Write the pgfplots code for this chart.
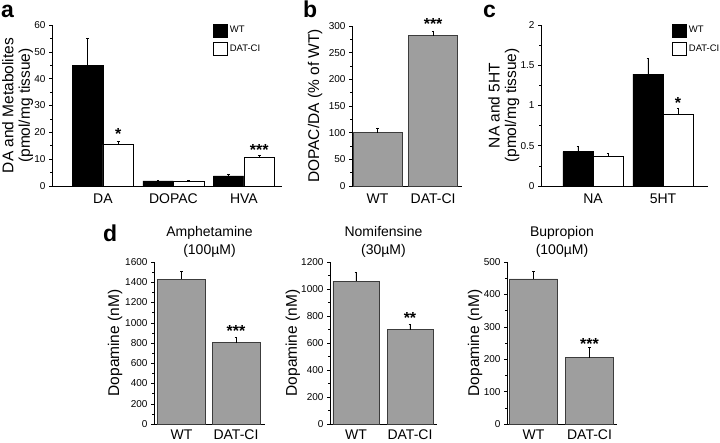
\documentclass[border=0pt]{standalone}
\usepackage{fontspec}
\setmainfont{Liberation Sans}
\usepackage{pgfplots}
\pgfplotsset{compat=1.18}
\definecolor{barg}{RGB}{158,158,158}
\definecolor{bare}{RGB}{60,60,60}

\tikzset{sig/.style={font=\bfseries\fontsize{16}{16}\selectfont, yshift=-3pt},
  letter/.style={anchor=base west, inner sep=0pt, font=\bfseries\fontsize{23}{23}\selectfont}}
\pgfplotsset{
  panel/.style={
    scale only axis, anchor=south west, clip=false,
    axis x line*=bottom, axis y line*=left,
    axis line style={line width=0.6pt, black},
    ymin=0,
    xtick style={draw=none},
    ytick style={black, line width=0.5pt},
    tick align=outside,
    major tick length=3pt, minor tick length=1.8pt,
    minor y tick num=1,
    /pgf/number format/assume math mode=true,
    /pgf/number format/1000 sep={},
    yticklabel style={font=\fontsize{10}{11}\selectfont},
    xticklabel style={font=\fontsize{14}{15}\selectfont, inner sep=1pt, yshift=-4pt},
    ylabel style={font=\fontsize{15.5}{16.5}\selectfont, align=center, anchor=center},
    title style={font=\fontsize{14}{18.5}\selectfont, align=center, yshift=-5pt},
  },
  drow/.style={xticklabel style={yshift=2pt}},
  eb/.style={error bars/y dir=plus, error bars/y explicit,
    error bars/error mark options={rotate=90, mark size=1.3pt, line width=0.5pt, black},
    error bars/error bar style={line width=0.5pt, black}},
  leg/.style={
    legend style={at={(axis description cs:#1,1.01)}, anchor=north west,
      draw=none, fill=none, inner sep=0pt, row sep=5pt,
      font=\fontsize{9.5}{10}\selectfont},
    legend cell align=left,
    legend image code/.code={\draw[##1] (0pt,-6.5pt) rectangle (14pt,6.5pt);}
  },
}

\begin{document}
\begin{tikzpicture}
\useasboundingbox (0,0) rectangle (720pt,442pt);

% panel letters
\node[letter] at (1pt,424pt) {a};
\node[letter] at (303pt,424pt) {b};
\node[letter] at (483pt,424pt) {c};
\node[letter] at (103pt,200pt) {d};

% a
\begin{axis}[panel, leg=0.70, at={(52pt,256pt)}, width=230pt, height=161pt,
  xmin=-0.723, xmax=2.54, ymax=60, ytick={0,10,...,60},
  xtick={0,1,2}, xticklabels={DA,DOPAC,HVA},
  ylabel={DA and Metabolites\\(pmol/mg tissue)},
  ylabel style={at={(axis description cs:-0.15,0.5)}}]
\addplot[ybar, bar width=0.433, bar shift=0pt, fill=black, draw=black, line width=0.6pt, eb, forget plot]
  coordinates {(-0.2165,45) +- (0,10) (0.7835,1.9) +- (0,0.3) (1.7835,3.8) +- (0,0.6)};
\addplot[ybar, bar width=0.433, bar shift=0pt, fill=white, draw=black, line width=0.6pt, eb, forget plot]
  coordinates {(0.2165,15.4) +- (0,1.2) (1.2165,1.9) +- (0,0.3) (2.2165,10.7) +- (0,0.8)};
\addlegendimage{fill=black, draw=black, line width=0.6pt}
\addlegendentry{WT}
\addlegendimage{fill=white, draw=black, line width=0.6pt}
\addlegendentry{DAT-CI}
\node[sig] at (axis cs:0.2165,20.5) {*};
\node[sig] at (axis cs:2.2165,14.6) {***};
\end{axis}

% b
\begin{axis}[panel, at={(352pt,256pt)}, width=110pt, height=160pt,
  xmin=-0.46, xmax=1.52, ymax=300, ytick={0,50,...,300},
  xtick={0,1}, xticklabels={WT,DAT-CI},
  ylabel={DOPAC/DA (\% of WT)},
  ylabel style={at={(axis description cs:-0.336,0.5)}}]
\addplot[ybar, bar width=0.88, fill=barg, draw=bare, line width=0.6pt, eb]
  coordinates {(0,100) +- (0,9) (1,282) +- (0,9)};
\node[sig] at (axis cs:1,310) {***};
\end{axis}

% c
\begin{axis}[panel, leg=0.785, at={(541pt,256pt)}, width=167pt, height=161pt,
  xmin=-0.743, xmax=1.643, ymax=2, ytick={0,0.5,...,2},
  xtick={0,1}, xticklabels={NA,5HT},
  ylabel={NA and 5HT\\(pmol/mg tissue)},
  ylabel style={at={(axis description cs:-0.222,0.5)}}]
\addplot[ybar, bar width=0.43, bar shift=0pt, fill=black, draw=black, line width=0.6pt, eb, forget plot]
  coordinates {(-0.215,0.426) +- (0,0.07) (0.785,1.39) +- (0,0.196)};
\addplot[ybar, bar width=0.43, bar shift=0pt, fill=white, draw=black, line width=0.6pt, eb, forget plot]
  coordinates {(0.215,0.369) +- (0,0.04) (1.215,0.89) +- (0,0.075)};
\addlegendimage{fill=black, draw=black, line width=0.6pt}
\addlegendentry{WT}
\addlegendimage{fill=white, draw=black, line width=0.6pt}
\addlegendentry{DAT-CI}
\node[sig] at (axis cs:1.215,1.07) {*};
\end{axis}

% d: amphetamine
\begin{axis}[panel, drow, at={(154pt,18pt)}, width=111pt, height=162pt,
  xmin=-0.505, xmax=1.532, ymax=1600, ytick={0,200,...,1600},
  xtick={0,1}, xticklabels={WT,DAT-CI},
  title={Amphetamine\\(100µM)},
  ylabel={Dopamine (nM)},
  ylabel style={at={(axis description cs:-0.35,0.5)}}]
\addplot[ybar, bar width=0.88, fill=barg, draw=bare, line width=0.6pt, eb]
  coordinates {(0,1431) +- (0,79) (1,802) +- (0,56)};
\node[sig] at (axis cs:1,944) {***};
\end{axis}

% d: nomifensine
\begin{axis}[panel, drow, at={(330pt,18pt)}, width=107pt, height=162pt,
  xmin=-0.48, xmax=1.5, ymax=1200, ytick={0,200,...,1200},
  xtick={0,1}, xticklabels={WT,DAT-CI},
  title={Nomifensine\\(30µM)},
  ylabel={Dopamine (nM)},
  ylabel style={at={(axis description cs:-0.346,0.5)}}]
\addplot[ybar, bar width=0.85, fill=barg, draw=bare, line width=0.6pt, eb]
  coordinates {(0,1058) +- (0,69) (1,698) +- (0,42)};
\node[sig] at (axis cs:1,807) {**};
\end{axis}

% d: bupropion
\begin{axis}[panel, drow, at={(507pt,18pt)}, width=110pt, height=162pt,
  xmin=-0.473, xmax=1.49, ymax=500, ytick={0,100,...,500},
  xtick={0,1}, xticklabels={WT,DAT-CI},
  title={Bupropion\\(100µM)},
  ylabel={Dopamine (nM)},
  ylabel style={at={(axis description cs:-0.29,0.5)}}]
\addplot[ybar, bar width=0.86, fill=barg, draw=bare, line width=0.6pt, eb]
  coordinates {(0,448) +- (0,24) (1,205) +- (0,31)};
\node[sig] at (axis cs:1,256) {***};
\end{axis}
\end{tikzpicture}
\end{document}
